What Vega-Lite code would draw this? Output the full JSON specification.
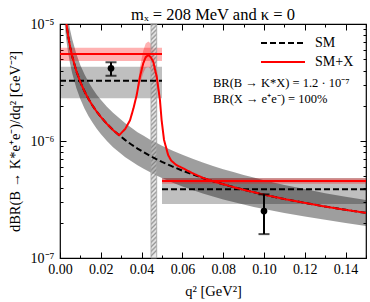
{
  "$schema": "https://vega.github.io/schema/vega-lite/v6.json",
  "width": 306,
  "height": 234,
  "autosize": {"type": "none"},
  "padding": {"left": 60, "top": 24, "right": 4, "bottom": 44},
  "background": "white",
  "title": {"text": "mₓ = 208 MeV and κ = 0", "font": "Liberation Serif", "fontSize": 16.5, "fontWeight": "normal", "offset": -6, "color": "black"},
  "config": {
    "view": {"stroke": "black", "strokeWidth": 1.2},
    "font": "Liberation Serif",
    "axis": {"grid": false, "domain": false, "tickColor": "black", "labelColor": "black", "titleColor": "black", "labelFont": "Liberation Serif", "titleFont": "Liberation Serif", "labelFontSize": 14, "titleFontSize": 14.5, "titleFontWeight": "normal"},
    "legend": {"orient": "none", "legendX": 216, "legendY": 12, "title": null, "symbolType": "M-4,0H4", "symbolSize": 121, "symbolStrokeWidth": 2.2, "labelFont": "Liberation Serif", "labelFontSize": 14, "labelFontWeight": "normal", "labelColor": "black", "labelOffset": 25, "rowPadding": 5, "padding": 0}
  },
  "datasets": {
    "sm": [
      {"q": 0.002, "sm": 1.578e-5, "lo": 1.127e-5, "hi": 2.209e-5},
      {"q": 0.003, "sm": 1.053e-5, "lo": 7.52e-6, "hi": 1.474e-5},
      {"q": 0.004, "sm": 7.91e-6, "lo": 5.65e-6, "hi": 1.107e-5},
      {"q": 0.005, "sm": 6.33e-6, "lo": 4.52e-6, "hi": 8.86e-6},
      {"q": 0.006, "sm": 5.28e-6, "lo": 3.77e-6, "hi": 7.39e-6},
      {"q": 0.008, "sm": 3.97e-6, "lo": 2.84e-6, "hi": 5.56e-6},
      {"q": 0.010, "sm": 3.18e-6, "lo": 2.27e-6, "hi": 4.45e-6},
      {"q": 0.012, "sm": 2.66e-6, "lo": 1.90e-6, "hi": 3.72e-6},
      {"q": 0.014, "sm": 2.28e-6, "lo": 1.63e-6, "hi": 3.19e-6},
      {"q": 0.016, "sm": 2.00e-6, "lo": 1.43e-6, "hi": 2.80e-6},
      {"q": 0.018, "sm": 1.78e-6, "lo": 1.27e-6, "hi": 2.49e-6},
      {"q": 0.020, "sm": 1.61e-6, "lo": 1.15e-6, "hi": 2.25e-6},
      {"q": 0.023, "sm": 1.40e-6, "lo": 1.00e-6, "hi": 1.96e-6},
      {"q": 0.026, "sm": 1.24e-6, "lo": 8.86e-7, "hi": 1.74e-6},
      {"q": 0.029, "sm": 1.12e-6, "lo": 8.00e-7, "hi": 1.57e-6},
      {"q": 0.032, "sm": 1.017e-6, "lo": 7.26e-7, "hi": 1.42e-6},
      {"q": 0.035, "sm": 9.33e-7, "lo": 6.71e-7, "hi": 1.30e-6},
      {"q": 0.038, "sm": 8.62e-7, "lo": 6.21e-7, "hi": 1.19e-6},
      {"q": 0.041, "sm": 8.01e-7, "lo": 5.78e-7, "hi": 1.11e-6},
      {"q": 0.044, "sm": 7.49e-7, "lo": 5.43e-7, "hi": 1.03e-6},
      {"q": 0.047, "sm": 7.03e-7, "lo": 5.10e-7, "hi": 9.69e-7},
      {"q": 0.050, "sm": 6.63e-7, "lo": 4.82e-7, "hi": 9.12e-7},
      {"q": 0.055, "sm": 6.06e-7, "lo": 4.42e-7, "hi": 8.30e-7},
      {"q": 0.060, "sm": 5.58e-7, "lo": 4.09e-7, "hi": 7.62e-7},
      {"q": 0.065, "sm": 5.18e-7, "lo": 3.81e-7, "hi": 7.04e-7},
      {"q": 0.070, "sm": 4.83e-7, "lo": 3.56e-7, "hi": 6.54e-7},
      {"q": 0.075, "sm": 4.53e-7, "lo": 3.35e-7, "hi": 6.12e-7},
      {"q": 0.080, "sm": 4.27e-7, "lo": 3.17e-7, "hi": 5.74e-7},
      {"q": 0.085, "sm": 4.04e-7, "lo": 3.01e-7, "hi": 5.42e-7},
      {"q": 0.090, "sm": 3.83e-7, "lo": 2.86e-7, "hi": 5.13e-7},
      {"q": 0.095, "sm": 3.65e-7, "lo": 2.73e-7, "hi": 4.87e-7},
      {"q": 0.100, "sm": 3.48e-7, "lo": 2.62e-7, "hi": 4.63e-7},
      {"q": 0.110, "sm": 3.19e-7, "lo": 2.42e-7, "hi": 4.21e-7},
      {"q": 0.120, "sm": 2.96e-7, "lo": 2.26e-7, "hi": 3.88e-7},
      {"q": 0.130, "sm": 2.75e-7, "lo": 2.12e-7, "hi": 3.58e-7},
      {"q": 0.140, "sm": 2.58e-7, "lo": 1.99e-7, "hi": 3.34e-7},
      {"q": 0.150, "sm": 2.43e-7, "lo": 1.88e-7, "hi": 3.13e-7}
    ],
    "red": [
      {"q": 0.002, "v": 1.578e-5}, {"q": 0.003, "v": 1.053e-5}, {"q": 0.004, "v": 7.91e-6},
      {"q": 0.005, "v": 6.33e-6}, {"q": 0.006, "v": 5.28e-6}, {"q": 0.008, "v": 3.97e-6},
      {"q": 0.010, "v": 3.18e-6}, {"q": 0.012, "v": 2.66e-6}, {"q": 0.014, "v": 2.28e-6},
      {"q": 0.016, "v": 2.00e-6}, {"q": 0.018, "v": 1.78e-6}, {"q": 0.020, "v": 1.61e-6},
      {"q": 0.023, "v": 1.40e-6}, {"q": 0.026, "v": 1.24e-6}, {"q": 0.029, "v": 1.12e-6},
      {"q": 0.032, "v": 1.27e-6}, {"q": 0.0343, "v": 1.5e-6}, {"q": 0.036, "v": 1.9e-6},
      {"q": 0.0376, "v": 2.47e-6}, {"q": 0.0392, "v": 3.55e-6}, {"q": 0.0408, "v": 4.61e-6},
      {"q": 0.042, "v": 5.2e-6}, {"q": 0.0433, "v": 5.43e-6}, {"q": 0.0445, "v": 5.2e-6},
      {"q": 0.0457, "v": 4.76e-6}, {"q": 0.0474, "v": 3.55e-6}, {"q": 0.049, "v": 2.24e-6},
      {"q": 0.0498, "v": 1.51e-6}, {"q": 0.051, "v": 1.02e-6}, {"q": 0.053, "v": 7.6e-7},
      {"q": 0.0545, "v": 6.8e-7}, {"q": 0.057, "v": 6.24e-7}, {"q": 0.060, "v": 5.88e-7},
      {"q": 0.065, "v": 5.3e-7}, {"q": 0.070, "v": 4.85e-7}, {"q": 0.075, "v": 4.53e-7},
      {"q": 0.080, "v": 4.27e-7}, {"q": 0.085, "v": 4.04e-7}, {"q": 0.090, "v": 3.83e-7},
      {"q": 0.095, "v": 3.65e-7}, {"q": 0.100, "v": 3.48e-7}, {"q": 0.110, "v": 3.19e-7},
      {"q": 0.120, "v": 2.96e-7}, {"q": 0.130, "v": 2.75e-7}, {"q": 0.140, "v": 2.58e-7},
      {"q": 0.150, "v": 2.43e-7}
    ],
    "peak": [
      {"q": 0.0376, "lo": 2.47e-6, "hi": 2.47e-6},
      {"q": 0.0392, "lo": 3.1e-6, "hi": 4.3e-6},
      {"q": 0.0408, "lo": 3.8e-6, "hi": 5.9e-6},
      {"q": 0.042, "lo": 4.2e-6, "hi": 6.8e-6},
      {"q": 0.0433, "lo": 4.3e-6, "hi": 7.1e-6},
      {"q": 0.0445, "lo": 4.1e-6, "hi": 6.8e-6},
      {"q": 0.0457, "lo": 3.7e-6, "hi": 6.0e-6},
      {"q": 0.0474, "lo": 2.9e-6, "hi": 4.3e-6},
      {"q": 0.049, "lo": 2.24e-6, "hi": 2.4e-6}
    ],
    "bins": [
      {"q1": 0, "q2": 0.05, "smv": 3.27e-6, "smlo": 2.32e-6, "smhi": 4.31e-6, "xv": 5.55e-6, "xlo": 4.83e-6, "xhi": 6.27e-6},
      {"q1": 0.05, "q2": 0.15, "smv": 3.86e-7, "smlo": 2.9e-7, "smhi": 4.83e-7, "xv": 4.55e-7, "xlo": 4.31e-7, "xhi": 4.8e-7}
    ],
    "pts": [
      {"q": 0.025, "v": 4.18e-6, "lo": 3.61e-6, "hi": 4.71e-6},
      {"q": 0.1, "v": 2.52e-7, "lo": 1.6e-7, "hi": 3.5e-7}
    ],
    "veto": [{"q1": 0.0446, "q2": 0.0474}],
    "notes": [
      {"line": 1, "text": "BR(B → K*X) = 1.2 · 10⁻⁷"},
      {"line": 2, "text": "BR(X → e⁺e⁻) = 100%"}
    ]
  },
  "layer": [
    {
      "data": {"name": "sm"},
      "mark": {"type": "area", "color": "black", "opacity": 0.38, "clip": true},
      "encoding": {
        "x": {"field": "q", "type": "quantitative", "scale": {"domain": [0, 0.15], "nice": false, "zero": false},
          "axis": {"title": "q² [GeV²]", "values": [0, 0.01, 0.02, 0.03, 0.04, 0.05, 0.06, 0.07, 0.08, 0.09, 0.1, 0.11, 0.12, 0.13, 0.14, 0.15],
            "labelExpr": "round(datum.value*100) % 2 == 0 ? format(datum.value, '.2f') : ''",
            "tickSize": {"condition": {"test": "round(datum.value*100) % 2 == 0", "value": -6}, "value": -3},
            "labelPadding": 10, "titlePadding": 8, "labelFlush": false}},
        "y": {"field": "lo", "type": "quantitative", "scale": {"type": "log", "domain": [1e-7, 1e-5], "nice": false},
          "axis": {"title": "dBR(B → K*e⁺e⁻)/dq² [GeV⁻²]",
            "values": [1e-7, 2e-7, 3e-7, 4e-7, 5e-7, 6e-7, 7e-7, 8e-7, 9e-7, 1e-6, 2e-6, 3e-6, 4e-6, 5e-6, 6e-6, 7e-6, 8e-6, 9e-6, 1e-5],
            "labelExpr": "abs(datum.value/1e-7 - 1) < 1e-6 ? '10⁻⁷' : abs(datum.value/1e-6 - 1) < 1e-6 ? '10⁻⁶' : abs(datum.value/1e-5 - 1) < 1e-6 ? '10⁻⁵' : ''",
            "tickSize": {"condition": {"test": "abs(log(datum.value)/LN10 - round(log(datum.value)/LN10)) < 0.001", "value": -6}, "value": -3},
            "labelPadding": 12, "titlePadding": 8, "labelFlush": false}},
        "y2": {"field": "hi"}
      }
    },
    {
      "layer": [
        {
          "data": {"name": "bins"},
          "mark": {"type": "rect", "color": "black", "opacity": 0.25},
          "encoding": {
            "x": {"field": "q1", "type": "quantitative", "axis": null}, "x2": {"field": "q2"},
            "y": {"field": "smlo", "type": "quantitative", "axis": null}, "y2": {"field": "smhi"}
          }
        },
        {
          "data": {"name": "bins"},
          "mark": {"type": "rect", "color": "red", "opacity": 0.3},
          "encoding": {
            "x": {"field": "q1", "type": "quantitative", "axis": null}, "x2": {"field": "q2"},
            "y": {"field": "xlo", "type": "quantitative", "axis": null}, "y2": {"field": "xhi"}
          }
        },
        {
          "data": {"name": "peak"},
          "mark": {"type": "area", "color": "red", "opacity": 0.3, "clip": true},
          "encoding": {
            "x": {"field": "q", "type": "quantitative", "axis": null},
            "y": {"field": "lo", "type": "quantitative", "axis": null}, "y2": {"field": "hi"}
          }
        },
        {
          "data": {"name": "veto"},
          "mark": {"type": "rect", "stroke": "#a0a0a0", "strokeWidth": 0.8,
            "fill": {"gradient": "linear", "x1": 0, "y1": 0, "x2": 0.0244, "y2": 1, "stops": [
              {"offset": 0.00, "color": "rgba(215,215,215,0.5)"}, {"offset": 0.0096, "color": "rgba(120,120,120,0.8)"},
              {"offset": 0.0192, "color": "rgba(215,215,215,0.5)"}, {"offset": 0.0288, "color": "rgba(120,120,120,0.8)"},
              {"offset": 0.0385, "color": "rgba(215,215,215,0.5)"}, {"offset": 0.0481, "color": "rgba(120,120,120,0.8)"},
              {"offset": 0.0577, "color": "rgba(215,215,215,0.5)"}, {"offset": 0.0673, "color": "rgba(120,120,120,0.8)"},
              {"offset": 0.0769, "color": "rgba(215,215,215,0.5)"}, {"offset": 0.0865, "color": "rgba(120,120,120,0.8)"},
              {"offset": 0.0962, "color": "rgba(215,215,215,0.5)"}, {"offset": 0.1058, "color": "rgba(120,120,120,0.8)"},
              {"offset": 0.1154, "color": "rgba(215,215,215,0.5)"}, {"offset": 0.1250, "color": "rgba(120,120,120,0.8)"},
              {"offset": 0.1346, "color": "rgba(215,215,215,0.5)"}, {"offset": 0.1442, "color": "rgba(120,120,120,0.8)"},
              {"offset": 0.1538, "color": "rgba(215,215,215,0.5)"}, {"offset": 0.1635, "color": "rgba(120,120,120,0.8)"},
              {"offset": 0.1731, "color": "rgba(215,215,215,0.5)"}, {"offset": 0.1827, "color": "rgba(120,120,120,0.8)"},
              {"offset": 0.1923, "color": "rgba(215,215,215,0.5)"}, {"offset": 0.2019, "color": "rgba(120,120,120,0.8)"},
              {"offset": 0.2115, "color": "rgba(215,215,215,0.5)"}, {"offset": 0.2212, "color": "rgba(120,120,120,0.8)"},
              {"offset": 0.2308, "color": "rgba(215,215,215,0.5)"}, {"offset": 0.2404, "color": "rgba(120,120,120,0.8)"},
              {"offset": 0.2500, "color": "rgba(215,215,215,0.5)"}, {"offset": 0.2596, "color": "rgba(120,120,120,0.8)"},
              {"offset": 0.2692, "color": "rgba(215,215,215,0.5)"}, {"offset": 0.2788, "color": "rgba(120,120,120,0.8)"},
              {"offset": 0.2885, "color": "rgba(215,215,215,0.5)"}, {"offset": 0.2981, "color": "rgba(120,120,120,0.8)"},
              {"offset": 0.3077, "color": "rgba(215,215,215,0.5)"}, {"offset": 0.3173, "color": "rgba(120,120,120,0.8)"},
              {"offset": 0.3269, "color": "rgba(215,215,215,0.5)"}, {"offset": 0.3365, "color": "rgba(120,120,120,0.8)"},
              {"offset": 0.3462, "color": "rgba(215,215,215,0.5)"}, {"offset": 0.3558, "color": "rgba(120,120,120,0.8)"},
              {"offset": 0.3654, "color": "rgba(215,215,215,0.5)"}, {"offset": 0.3750, "color": "rgba(120,120,120,0.8)"},
              {"offset": 0.3846, "color": "rgba(215,215,215,0.5)"}, {"offset": 0.3942, "color": "rgba(120,120,120,0.8)"},
              {"offset": 0.4038, "color": "rgba(215,215,215,0.5)"}, {"offset": 0.4135, "color": "rgba(120,120,120,0.8)"},
              {"offset": 0.4231, "color": "rgba(215,215,215,0.5)"}, {"offset": 0.4327, "color": "rgba(120,120,120,0.8)"},
              {"offset": 0.4423, "color": "rgba(215,215,215,0.5)"}, {"offset": 0.4519, "color": "rgba(120,120,120,0.8)"},
              {"offset": 0.4615, "color": "rgba(215,215,215,0.5)"}, {"offset": 0.4712, "color": "rgba(120,120,120,0.8)"},
              {"offset": 0.4808, "color": "rgba(215,215,215,0.5)"}, {"offset": 0.4904, "color": "rgba(120,120,120,0.8)"},
              {"offset": 0.5000, "color": "rgba(215,215,215,0.5)"}, {"offset": 0.5096, "color": "rgba(120,120,120,0.8)"},
              {"offset": 0.5192, "color": "rgba(215,215,215,0.5)"}, {"offset": 0.5288, "color": "rgba(120,120,120,0.8)"},
              {"offset": 0.5385, "color": "rgba(215,215,215,0.5)"}, {"offset": 0.5481, "color": "rgba(120,120,120,0.8)"},
              {"offset": 0.5577, "color": "rgba(215,215,215,0.5)"}, {"offset": 0.5673, "color": "rgba(120,120,120,0.8)"},
              {"offset": 0.5769, "color": "rgba(215,215,215,0.5)"}, {"offset": 0.5865, "color": "rgba(120,120,120,0.8)"},
              {"offset": 0.5962, "color": "rgba(215,215,215,0.5)"}, {"offset": 0.6058, "color": "rgba(120,120,120,0.8)"},
              {"offset": 0.6154, "color": "rgba(215,215,215,0.5)"}, {"offset": 0.6250, "color": "rgba(120,120,120,0.8)"},
              {"offset": 0.6346, "color": "rgba(215,215,215,0.5)"}, {"offset": 0.6442, "color": "rgba(120,120,120,0.8)"},
              {"offset": 0.6538, "color": "rgba(215,215,215,0.5)"}, {"offset": 0.6635, "color": "rgba(120,120,120,0.8)"},
              {"offset": 0.6731, "color": "rgba(215,215,215,0.5)"}, {"offset": 0.6827, "color": "rgba(120,120,120,0.8)"},
              {"offset": 0.6923, "color": "rgba(215,215,215,0.5)"}, {"offset": 0.7019, "color": "rgba(120,120,120,0.8)"},
              {"offset": 0.7115, "color": "rgba(215,215,215,0.5)"}, {"offset": 0.7212, "color": "rgba(120,120,120,0.8)"},
              {"offset": 0.7308, "color": "rgba(215,215,215,0.5)"}, {"offset": 0.7404, "color": "rgba(120,120,120,0.8)"},
              {"offset": 0.7500, "color": "rgba(215,215,215,0.5)"}, {"offset": 0.7596, "color": "rgba(120,120,120,0.8)"},
              {"offset": 0.7692, "color": "rgba(215,215,215,0.5)"}, {"offset": 0.7788, "color": "rgba(120,120,120,0.8)"},
              {"offset": 0.7885, "color": "rgba(215,215,215,0.5)"}, {"offset": 0.7981, "color": "rgba(120,120,120,0.8)"},
              {"offset": 0.8077, "color": "rgba(215,215,215,0.5)"}, {"offset": 0.8173, "color": "rgba(120,120,120,0.8)"},
              {"offset": 0.8269, "color": "rgba(215,215,215,0.5)"}, {"offset": 0.8365, "color": "rgba(120,120,120,0.8)"},
              {"offset": 0.8462, "color": "rgba(215,215,215,0.5)"}, {"offset": 0.8558, "color": "rgba(120,120,120,0.8)"},
              {"offset": 0.8654, "color": "rgba(215,215,215,0.5)"}, {"offset": 0.8750, "color": "rgba(120,120,120,0.8)"},
              {"offset": 0.8846, "color": "rgba(215,215,215,0.5)"}, {"offset": 0.8942, "color": "rgba(120,120,120,0.8)"},
              {"offset": 0.9038, "color": "rgba(215,215,215,0.5)"}, {"offset": 0.9135, "color": "rgba(120,120,120,0.8)"},
              {"offset": 0.9231, "color": "rgba(215,215,215,0.5)"}, {"offset": 0.9327, "color": "rgba(120,120,120,0.8)"},
              {"offset": 0.9423, "color": "rgba(215,215,215,0.5)"}, {"offset": 0.9519, "color": "rgba(120,120,120,0.8)"},
              {"offset": 0.9615, "color": "rgba(215,215,215,0.5)"}, {"offset": 0.9712, "color": "rgba(120,120,120,0.8)"},
              {"offset": 0.9808, "color": "rgba(215,215,215,0.5)"}, {"offset": 0.9904, "color": "rgba(120,120,120,0.8)"},
              {"offset": 1.0, "color": "rgba(215,215,215,0.5)"}
            ]}},
          "encoding": {
            "x": {"field": "q1", "type": "quantitative", "axis": null}, "x2": {"field": "q2"},
            "y": {"datum": 1e-7, "type": "quantitative", "axis": null}, "y2": {"datum": 1e-5}
          }
        },
        {
          "data": {"name": "sm"},
          "mark": {"type": "line", "strokeWidth": 2, "clip": true},
          "encoding": {
            "x": {"field": "q", "type": "quantitative", "axis": null},
            "y": {"field": "sm", "type": "quantitative", "axis": null},
            "stroke": {"datum": "SM", "scale": {"domain": ["SM", "SM+X"], "range": ["black", "red"]}},
            "strokeDash": {"datum": "SM", "scale": {"domain": ["SM", "SM+X"], "range": [[6, 3], [1, 0]]}}
          }
        },
        {
          "data": {"name": "bins"},
          "mark": {"type": "rule", "color": "black", "strokeWidth": 2, "strokeDash": [6, 3]},
          "encoding": {
            "x": {"field": "q1", "type": "quantitative", "axis": null}, "x2": {"field": "q2"},
            "y": {"field": "smv", "type": "quantitative", "axis": null}
          }
        },
        {
          "data": {"name": "red"},
          "mark": {"type": "line", "strokeWidth": 2, "clip": true},
          "encoding": {
            "x": {"field": "q", "type": "quantitative", "axis": null},
            "y": {"field": "v", "type": "quantitative", "axis": null},
            "stroke": {"datum": "SM+X"},
            "strokeDash": {"datum": "SM+X"}
          }
        },
        {
          "data": {"name": "bins"},
          "mark": {"type": "rule", "color": "red", "strokeWidth": 2},
          "encoding": {
            "x": {"field": "q1", "type": "quantitative", "axis": null}, "x2": {"field": "q2"},
            "y": {"field": "xv", "type": "quantitative", "axis": null}
          }
        },
        {
          "data": {"name": "pts"},
          "mark": {"type": "rule", "color": "black", "strokeWidth": 2},
          "encoding": {
            "x": {"field": "q", "type": "quantitative", "axis": null},
            "y": {"field": "lo", "type": "quantitative", "axis": null}, "y2": {"field": "hi"}
          }
        },
        {
          "data": {"name": "pts"},
          "mark": {"type": "tick", "color": "black", "orient": "horizontal", "size": 11, "thickness": 2},
          "encoding": {
            "x": {"field": "q", "type": "quantitative", "axis": null},
            "y": {"field": "lo", "type": "quantitative", "axis": null}
          }
        },
        {
          "data": {"name": "pts"},
          "mark": {"type": "tick", "color": "black", "orient": "horizontal", "size": 11, "thickness": 2},
          "encoding": {
            "x": {"field": "q", "type": "quantitative", "axis": null},
            "y": {"field": "hi", "type": "quantitative", "axis": null}
          }
        },
        {
          "data": {"name": "notes"},
          "transform": [{"filter": "datum.line == 1"}],
          "mark": {"type": "text", "align": "left", "baseline": "middle", "fontSize": 12.5, "font": "Liberation Serif", "color": "black"},
          "encoding": {
            "text": {"field": "text"},
            "x": {"datum": 0.075, "type": "quantitative", "axis": null},
            "y": {"datum": 3.13e-6, "type": "quantitative", "axis": null}
          }
        },
        {
          "data": {"name": "notes"},
          "transform": [{"filter": "datum.line == 2"}],
          "mark": {"type": "text", "align": "left", "baseline": "middle", "fontSize": 12.5, "font": "Liberation Serif", "color": "black"},
          "encoding": {
            "text": {"field": "text"},
            "x": {"datum": 0.075, "type": "quantitative", "axis": null},
            "y": {"datum": 2.29e-6, "type": "quantitative", "axis": null}
          }
        }
      ]
    },
    {
      "data": {"name": "pts"},
      "mark": {"type": "point", "filled": true, "color": "black", "opacity": 1, "size": 45},
      "encoding": {
        "x": {"field": "q", "type": "quantitative",
          "axis": {"orient": "top", "title": null, "labels": false, "values": [0, 0.01, 0.02, 0.03, 0.04, 0.05, 0.06, 0.07, 0.08, 0.09, 0.1, 0.11, 0.12, 0.13, 0.14, 0.15],
            "tickSize": {"condition": {"test": "round(datum.value*100) % 2 == 0", "value": -6}, "value": -3}}},
        "y": {"field": "v", "type": "quantitative",
          "axis": {"orient": "right", "title": null, "labels": false,
            "values": [1e-7, 2e-7, 3e-7, 4e-7, 5e-7, 6e-7, 7e-7, 8e-7, 9e-7, 1e-6, 2e-6, 3e-6, 4e-6, 5e-6, 6e-6, 7e-6, 8e-6, 9e-6, 1e-5],
            "tickSize": {"condition": {"test": "abs(log(datum.value)/LN10 - round(log(datum.value)/LN10)) < 0.001", "value": -6}, "value": -3}}}
      }
    }
  ],
  "resolve": {"axis": {"x": "independent", "y": "independent"}}
}
